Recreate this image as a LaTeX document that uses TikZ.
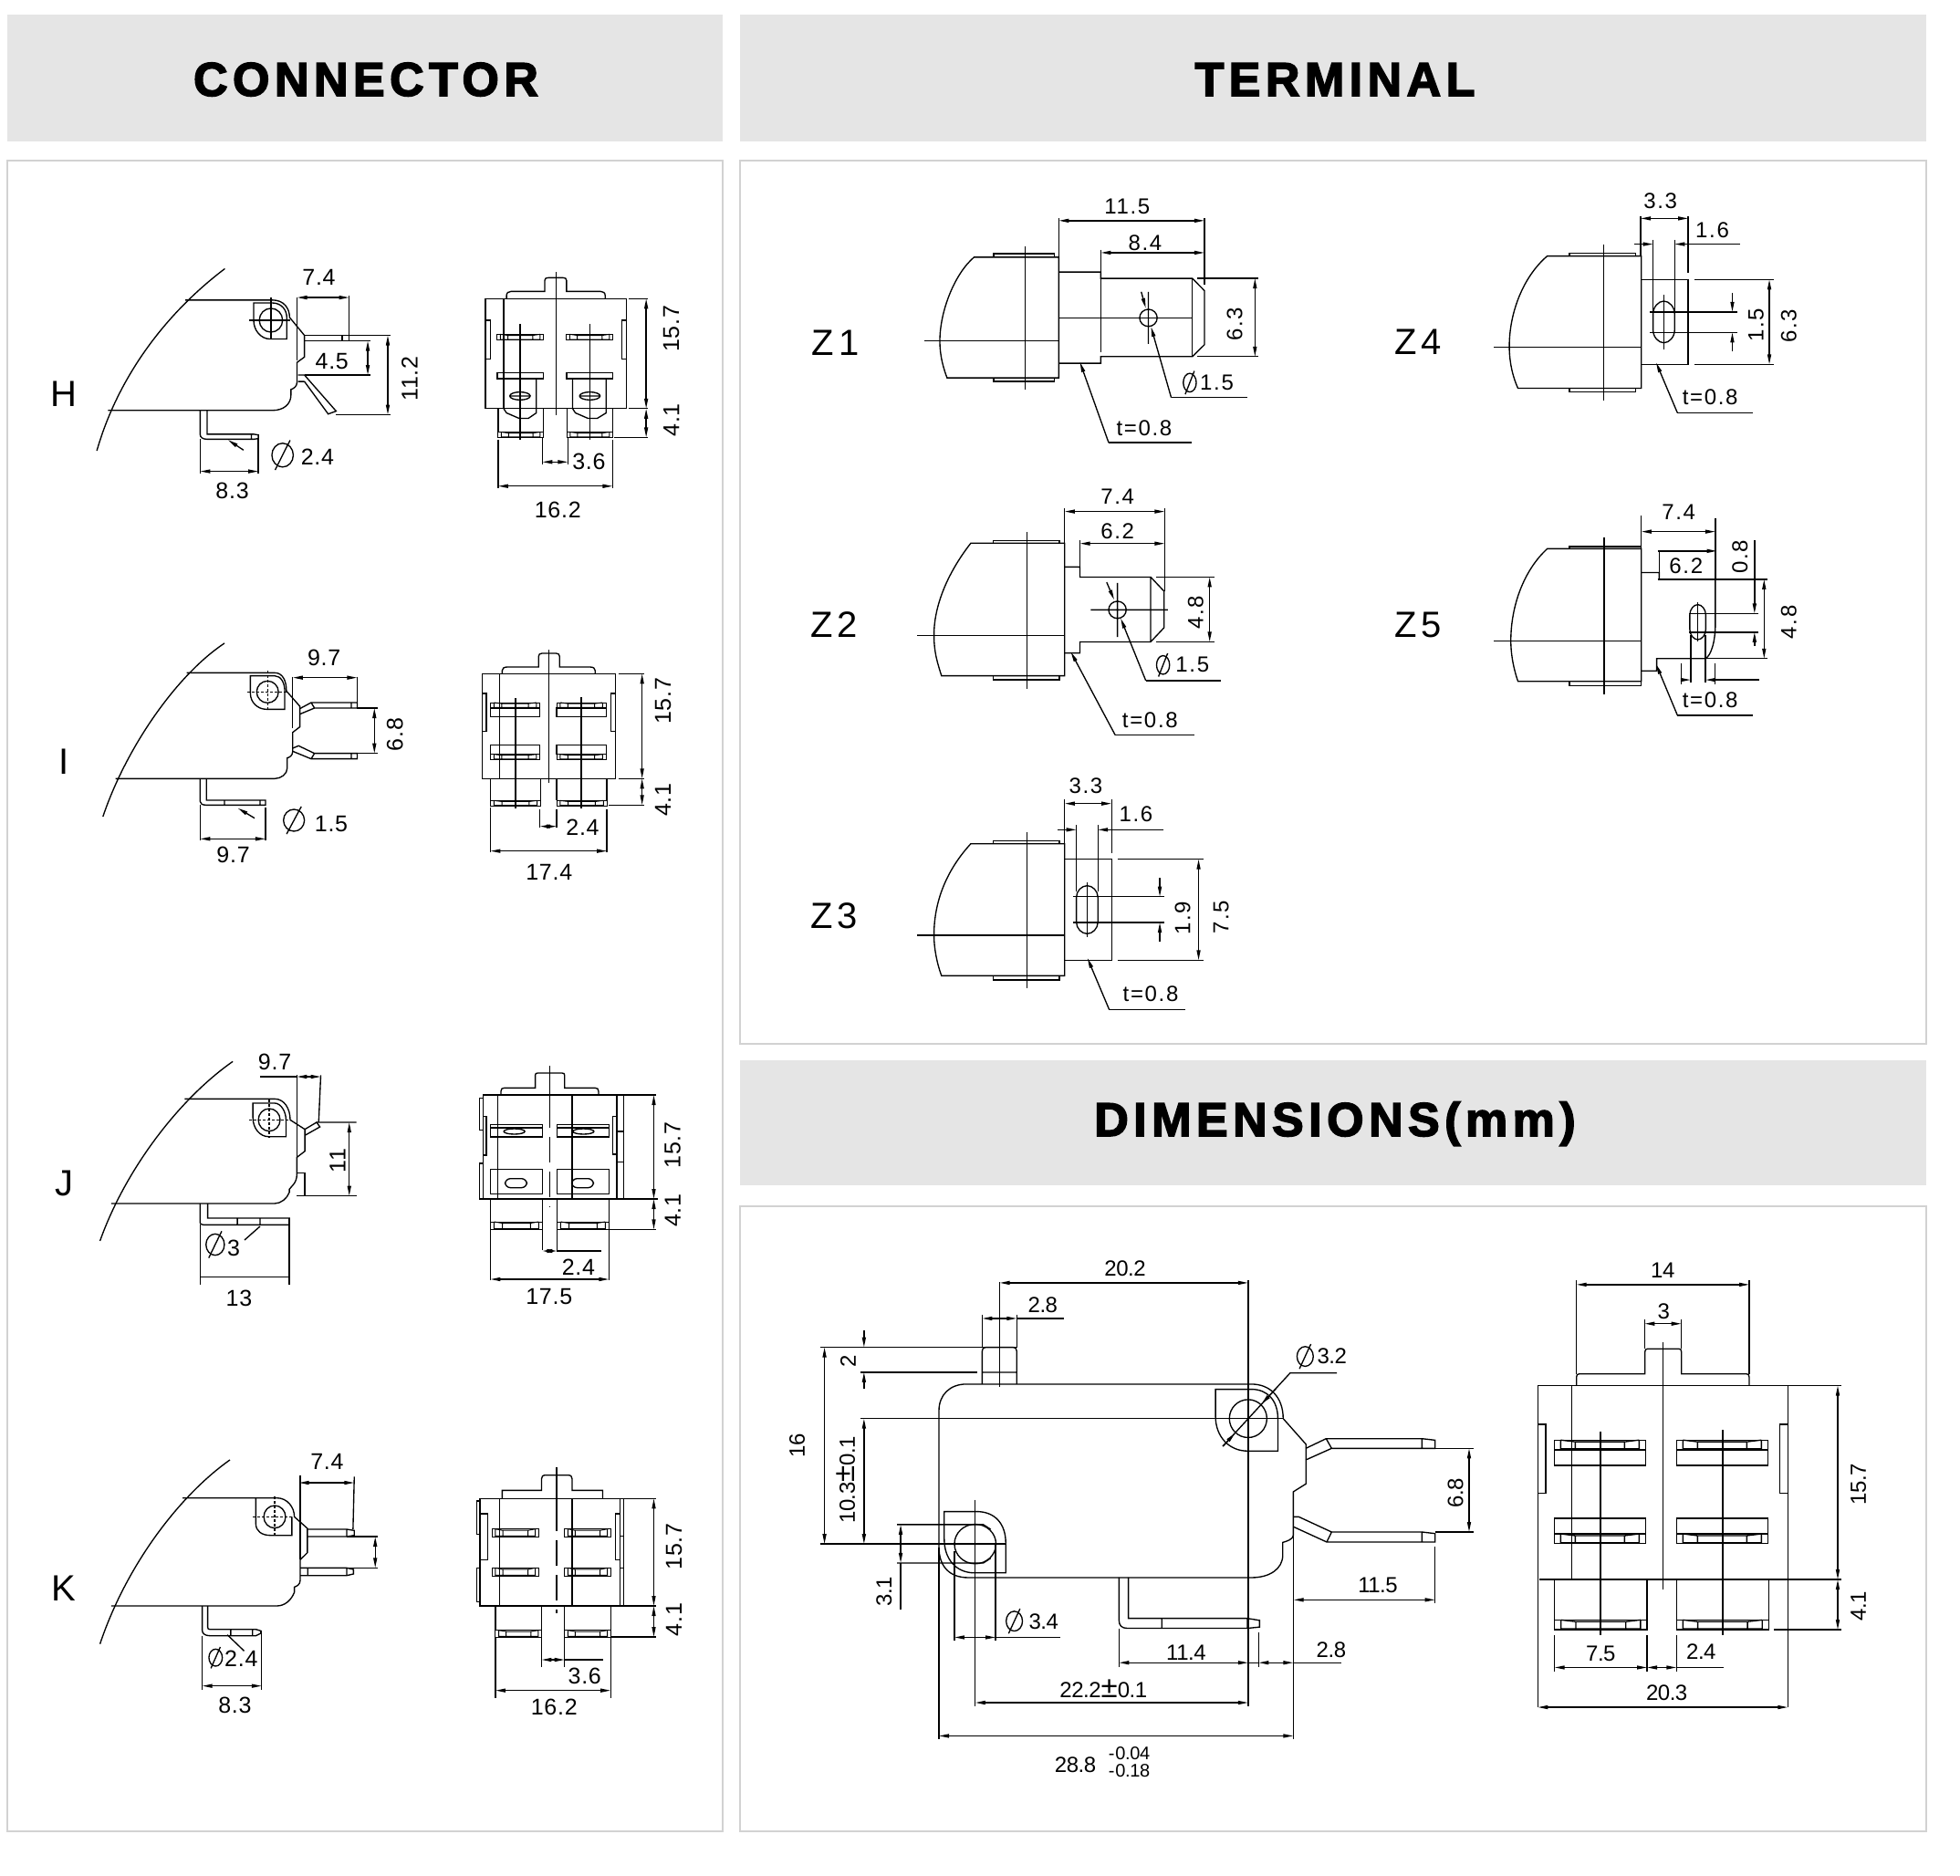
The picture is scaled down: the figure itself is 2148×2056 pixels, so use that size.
\documentclass[tikz,border=0pt]{standalone}
\usepackage{fontspec}
\usetikzlibrary{arrows.meta}
\setmainfont{Liberation Sans}
\newfontfamily\fdim[LetterSpace=3]{Liberation Sans}
\newfontfamily\fterm[LetterSpace=7]{Liberation Sans}
\newfontfamily\fbig[LetterSpace=-2]{Liberation Sans}
\newfontfamily\ftitle[LetterSpace=10.5,FakeBold=3]{Liberation Sans Bold}
\newcommand{\fa}{\fontsize{25pt}{25pt}\fdim}
\newcommand{\fb}{\fontsize{24pt}{24pt}\fterm}
\newcommand{\fc}{\fontsize{24pt}{24pt}\fbig}
\newcommand{\fd}{\fontsize{20pt}{20pt}\fbig}
\newcommand{\fe}{\fontsize{40pt}{40pt}\fterm}
\newcommand{\ft}{\fontsize{52pt}{52pt}\ftitle}
\newcommand{\dimf}{\fa}
\newcommand{\trapw}{1pt}
\newcommand{\bigpm}{{\fontsize{33pt}{33pt}\selectfont ±}}
\newcount\tcnt
\newcommand{\lab}[3]{\global\advance\tcnt by 1 \node[tx] (t\the\tcnt) at (#1,#2) {#3};}
\newcommand{\rlab}[3]{\global\advance\tcnt by 1 \node[tx,rotate=90] (t\the\tcnt) at (#1,#2) {#3};}
\newcommand{\letter}[3]{\global\advance\tcnt by 1 \node[inner sep=0pt,font=\fe] (t\the\tcnt) at (#1,#2) {#3};}
\newcommand{\diam}[4]{\draw (#1,#2) circle [x radius=#3,y radius=#4]; \draw ({#1+0.7*#3},{#2-1.25*#4}) -- ({#1-0.7*#3},{#2+1.25*#4});}
\newcommand{\trap}[4]{%
 \pgfmathsetmacro\ta{#1+0.07*(#2-#1)}\pgfmathsetmacro\tb{#1+0.23*(#2-#1)}%
 \pgfmathsetmacro\tc{#2-0.23*(#2-#1)}\pgfmathsetmacro\td{#2-0.07*(#2-#1)}%
 \pgfmathsetmacro\te{#3+0.18*(#4-#3)}\pgfmathsetmacro\tf{#4-0.1*(#4-#3)}%
 \draw[line width=\trapw] (#1,#3) rectangle (#2,#4);
 \draw[line width=\trapw] (\ta,#3)--(\ta,#4) (\td,#3)--(\td,#4) (\tb,\te)--(\tb,#4) (\tc,\te)--(\tc,#4) (\ta,#3)--(\tb,\te)--(\tc,\te)--(\td,#3) (\ta,\tf)--(\td,\tf);}
\newcommand{\stad}[5]{%
 \pgfmathsetmacro\sm{(#1+#2)/2}\pgfmathsetmacro\sa{#3+#5}\pgfmathsetmacro\sb{#4-#5}%
 \draw (#1,\sa) .. controls (#1,{#3+0.45*#5}) and ({#1+0.25*(#2-#1)},#3) .. (\sm,#3) .. controls ({#2-0.25*(#2-#1)},#3) and (#2,{#3+0.45*#5}) .. (#2,\sa) -- (#2,\sb) .. controls (#2,{#4-0.45*#5}) and ({#2-0.25*(#2-#1)},#4) .. (\sm,#4) .. controls ({#1+0.25*(#2-#1)},#4) and (#1,{#4-0.45*#5}) .. (#1,\sb) -- cycle;}
\tikzset{
 zm/.style n args={4}{shift={(#1pt,-#2pt)},x=1pt/#3,y=-1pt/#4},
 tx/.style={inner sep=0pt,font=\dimf},
 dm/.style={<->},
 head/.style={fill=headgray,draw=none},
 pane/.style={draw=panegray,line width=2pt,fill=white},
 ttl/.style={inner sep=0pt,font=\ft,anchor=base},
}
\definecolor{headgray}{HTML}{E5E5E5}
\definecolor{panegray}{HTML}{D2D2D2}
\begin{document}
\begin{tikzpicture}[line width=1.35pt,>={Stealth[length=11pt,width=4pt,inset=0pt]},line join=miter]
\useasboundingbox (0pt,0pt) rectangle (2148pt,-2056pt);
\begin{scope}[zm={0}{0}{1}{1}]
\fill[head] (8,16) rectangle (792,155);
\fill[head] (811,16) rectangle (2111,155);
\fill[head] (811,1162) rectangle (2111,1299);
\draw[pane] (8,176) rectangle (792,2007);
\draw[pane] (811,176) rectangle (2111,1144);
\draw[pane] (811,1322) rectangle (2111,2007);
\node[ttl] (tconn) at (401,105) {CONNECTOR};
\node[ttl] (tterm) at (1463,105) {TERMINAL};
\node[ttl] (tdim) at (1463,1245) {DIMENSIONS(mm)};
\end{scope}
% ---------- H
\begin{scope}[zm={0}{0}{1.96}{2.53}]
\letter{137}{1092}{H}
\draw (483,745) .. controls (345,880) and (250,1060) .. (208,1250);
\draw (398,832) -- (585,832) .. controls (610,832) and (622,855) .. (622,880) -- (654,930) -- (654,990) -- (638,1005) -- (638,1060) .. controls (638,1072) and (630,1078) .. (625,1080) -- (625,1095) .. controls (625,1120) and (610,1138) .. (585,1138) -- (232,1138);
\draw (545,840) -- (585,840) .. controls (605,840) and (616,860) .. (616,880) -- (616,940) -- (580,940) .. controls (560,940) and (545,915) .. (545,890) -- cycle;
\draw (582,888) circle [x radius=25,y radius=33];
\draw (535,888)--(623,888) (582,825)--(582,940) (638,825)--(638,1000);
\draw (654,930)--(750,930)--(750,945)--(654,945) (735,930)--(735,945);
\draw (640,1040)--(654,1040)--(722,1140)--(705,1148)--(654,1058) (640,1058)--(654,1058);
\draw[dm] (638,825)--(750,825); \draw (750,820)--(750,930); \lab{685}{770}{7.4}
\draw (654,945)--(795,945) (654,1040)--(795,1040); \draw[dm] (790,945)--(790,1040); \lab{713}{1002}{4.5}
\draw (750,930)--(838,930) (722,1150)--(838,1150); \draw[dm] (833,930)--(833,1150); \rlab{880}{1050}{11.2}
\draw (445,1138)--(445,1204)--(545,1204)--(555,1206)--(555,1216)--(545,1218)--(445,1218) .. controls (435,1218) and (430,1212) .. (430,1205)--(430,1138) (540,1204)--(540,1218);
\draw (430,1218)--(430,1312) (555,1218)--(555,1312); \draw[dm] (430,1307)--(555,1307); \lab{499}{1362}{8.3}
\draw[->] (523,1248)--(490,1220);
\diam{607}{1262}{23}{33} \lab{682}{1266}{2.4}
% front
\draw (1088,828)--(1088,820) .. controls (1088,812) and (1092,808) .. (1098,808) -- (1170,808)--(1170,778) .. controls (1170,772) and (1173,770) .. (1178,770) -- (1209,770) .. controls (1214,770) and (1217,772) .. (1217,778) -- (1217,808)--(1290,808) .. controls (1296,808) and (1300,812) .. (1300,820)--(1300,828);
\draw (1043,828) rectangle (1346,1133);
\draw (1195,755)--(1195,1150) (1082,828)--(1082,1133);
\draw (1043,888) rectangle (1053,995) (1336,888) rectangle (1346,995);
\trap{1068}{1167}{927}{943} \trap{1217}{1316}{927}{943}
\draw (1068,1033) rectangle (1167,1050) (1217,1033) rectangle (1316,1050);
\draw (1082,1050)--(1082,1133)--(1088,1145)--(1115,1160)--(1135,1160)--(1152,1145)--(1152,1050);
\draw (1230,1050)--(1230,1133)--(1236,1145)--(1263,1160)--(1283,1160)--(1302,1145)--(1302,1050);
\draw (1117,898)--(1117,1220) (1267,898)--(1267,1220);
\draw (1117,1098) circle [x radius=22,y radius=11] (1095,1098)--(1139,1098);
\draw (1267,1098) circle [x radius=22,y radius=11] (1245,1098)--(1289,1098);
\draw (1070,1133)--(1070,1198) (1167,1133)--(1167,1198) (1218,1133)--(1218,1198) (1316,1133)--(1316,1198);
\trap{1070}{1167}{1198}{1213} \trap{1218}{1316}{1198}{1213}
\draw (1350,828)--(1392,828) (1350,1133)--(1392,1133) (1320,1213)--(1392,1213);
\draw[dm] (1388,828)--(1388,1133); \draw[dm] (1388,1133)--(1388,1213);
\rlab{1442}{912}{15.7} \rlab{1442}{1165}{4.1}
\draw (1165,1213)--(1165,1288) (1220,1213)--(1220,1288); \draw[dm] (1165,1281)--(1220,1281); \lab{1265}{1280}{3.6}
\draw (1070,1220)--(1070,1353) (1316,1220)--(1316,1353); \draw[dm] (1070,1348)--(1316,1348); \lab{1198}{1415}{16.2}
\end{scope}
% ---------- I
\begin{scope}[zm={60}{680}{2.178}{3}]
\letter{22}{465}{I}
\draw (405,75) .. controls (290,180) and (170,420) .. (115,645);
\draw (315,172)--(525,172) .. controls (545,172) and (553,200) .. (553,232) -- (585,282)--(585,350)--(568,368)--(568,430) .. controls (568,445) and (560,450) .. (555,452)--(555,485) .. controls (555,505) and (540,520) .. (525,520)--(145,520);
\draw (467,182)--(525,182) .. controls (540,182) and (549,205) .. (549,232)--(549,292)--(505,292) .. controls (485,292) and (467,270) .. (467,240)--cycle;
\draw (508,235) circle [x radius=26,y radius=36];
\draw[densely dashed] (460,235)--(553,235) (508,165)--(508,298);
\draw (568,185)--(568,355);
\draw (585,290)--(612,270)--(722,270)--(722,288)--(620,288)--(585,308) (612,270)--(620,288) (708,270)--(708,288);
\draw (568,420)--(582,412)--(620,437)--(722,437)--(722,455)--(612,455)--(568,430) (612,455)--(620,437) (708,437)--(708,455);
\draw (722,185)--(722,270); \draw[dm] (568,188)--(722,188); \lab{643}{122}{9.7}
\draw (720,288)--(770,288) (720,437)--(770,437); \draw[dm] (763,288)--(763,437); \rlab{812}{375}{6.8}
\draw (362,520)--(362,591)--(503,591)--(503,607)--(362,607) .. controls (352,607) and (347,602) .. (347,595)--(347,520) (405,591)--(405,607) (490,591)--(490,607);
\draw (347,607)--(347,722) (503,615)--(503,722); \draw[dm] (347,718)--(503,718); \lab{426}{772}{9.7}
\draw[->] (477,650)--(437,617);
\diam{571}{657}{25}{36} \lab{660}{670}{1.5}
% front
\draw (1068,175)--(1068,165) .. controls (1068,158) and (1072,153) .. (1080,153)--(1155,153)--(1155,118) .. controls (1155,112) and (1158,108) .. (1163,108)--(1197,108) .. controls (1202,108) and (1205,112) .. (1205,118)--(1205,153)--(1278,153) .. controls (1286,153) and (1290,158) .. (1290,165)--(1290,175);
\draw (1020,175) rectangle (1338,520);
\draw (1180,97)--(1180,535) (1062,175)--(1062,520);
\draw (1020,240) rectangle (1030,365) (1328,240) rectangle (1338,365);
\trap{1040}{1158}{270}{288} \trap{1198}{1316}{270}{288}
\draw (1040,288) rectangle (1158,316) (1198,288) rectangle (1316,316);
\draw (1040,410) rectangle (1158,440) (1198,410) rectangle (1316,440);
\trap{1040}{1158}{440}{457} \trap{1198}{1316}{440}{457}
\draw (1100,255)--(1100,618) (1257,252)--(1257,618);
\draw (1040,520)--(1040,592) (1160,520)--(1160,592) (1198,520)--(1198,592) (1318,520)--(1318,592);
\trap{1040}{1160}{592}{610} \trap{1198}{1318}{592}{610}
\draw (1345,175)--(1408,175) (1345,520)--(1408,520) (1322,607)--(1408,607);
\draw[dm] (1402,175)--(1402,520); \draw[dm] (1402,520)--(1402,607);
\rlab{1452}{265}{15.7} \rlab{1452}{590}{4.1}
\draw (1158,620)--(1158,682) (1198,620)--(1198,682); \draw[dm] (1158,677)--(1198,677); \lab{1260}{680}{2.4}
\draw (1040,615)--(1040,762) (1318,620)--(1318,762); \draw[dm] (1040,758)--(1318,758); \lab{1180}{828}{17.4}
\end{scope}
% ---------- J
\begin{scope}[zm={60}{1140}{2.178}{3}]
\letter{22}{470}{J}
\draw (425,70) .. controls (300,190) and (170,420) .. (108,660);
\draw (310,193)--(525,193) .. controls (548,193) and (562,225) .. (562,262)--(597,293)--(597,365)--(578,385)--(578,440) .. controls (578,470) and (565,480) .. (560,490)--(560,500) .. controls (555,520) and (540,537) .. (525,537)--(135,537);
\draw (473,207)--(525,207) .. controls (540,207) and (552,235) .. (552,262)--(552,317)--(510,317) .. controls (490,317) and (473,290) .. (473,255)--cycle;
\draw (512,262) circle [x radius=26,y radius=37];
\draw[densely dashed] (465,262)--(560,262) (512,195)--(512,320);
\draw (578,115)--(578,385);
\draw (597,293)--(625,270)--(633,285)--(597,313);
\draw (578,437)--(597,437)--(597,512) (578,512)--(720,512);
\draw (490,120)--(578,120); \draw[dm] (578,120)--(635,120); \lab{525}{72}{9.7}
\draw (635,115)--(630,270) (625,270)--(720,270);
\draw[dm] (703,270)--(703,512); \rlab{675}{397}{11}
\draw (365,537)--(365,585)--(560,585)--(560,607)--(355,607) .. controls (350,607) and (347,604) .. (347,600)--(347,537) (436,585)--(436,607) (490,585)--(490,607);
\draw (347,607)--(347,805) (560,585)--(560,805) (347,778)--(560,778); \lab{440}{850}{13}
\draw (490,612)--(453,657);
\diam{383}{672}{22}{35} \lab{427}{683}{3}
% front
\draw (1065,180)--(1065,168) .. controls (1065,160) and (1068,157) .. (1073,157)--(1147,157)--(1147,115) .. controls (1147,110) and (1149,108) .. (1153,108)--(1211,108) .. controls (1215,108) and (1217,110) .. (1217,115)--(1217,157)--(1290,157) .. controls (1295,157) and (1298,160) .. (1298,168)--(1298,180);
\draw (1022,180) rectangle (1358,522);
\draw (1057,180)--(1057,522) (1235,180)--(1235,522) (1342,180)--(1342,522);
\draw (1014,190) rectangle (1022,295) (1022,250) rectangle (1030,378) (1014,405) rectangle (1022,522);
\draw (1332,250) rectangle (1342,375) (1342,300)--(1358,300) (1342,400)--(1358,400);
\draw (1040,278) rectangle (1164,318) (1040,288)--(1164,288) (1199,278) rectangle (1323,318) (1199,288)--(1323,288);
\draw (1097,300) circle [x radius=25,y radius=9] (1262,300) circle [x radius=25,y radius=9];
\draw (1040,425) rectangle (1164,505) (1199,425) rectangle (1323,505);
\draw[rounded corners=6pt] (1075,455) rectangle (1127,485) (1234,455) rectangle (1286,485);
\draw (1181,85)--(1181,205); \draw[dashed,dash pattern=on 28pt off 10pt] (1181,205)--(1181,548);
\draw (1040,522)--(1040,597) (1323,522)--(1323,597) (1164,522)--(1164,690) (1199,522)--(1199,690);
\trap{1040}{1164}{597}{622} \trap{1199}{1323}{597}{622}
\draw (1323,622)--(1435,622) (1358,180)--(1435,180) (1358,522)--(1440,522);
\draw[dm] (1430,180)--(1430,522); \draw[dm] (1430,522)--(1430,622);
\rlab{1475}{345}{15.7} \rlab{1475}{560}{4.1}
\draw (1199,693)--(1305,693); \draw[dm] (1164,693)--(1199,693); \lab{1250}{745}{2.4}
\draw (1040,622)--(1040,790) (1323,622)--(1323,790); \draw[dm] (1040,786)--(1323,786); \lab{1180}{842}{17.5}
\end{scope}
% ---------- K
\begin{scope}[zm={60}{1590}{2.178}{3}]
\letter{22}{452}{K}
\draw (418,30) .. controls (295,150) and (170,380) .. (108,635);
\draw (305,155)--(530,155) .. controls (555,155) and (572,185) .. (572,217)--(603,255)--(603,335)--(586,358)--(586,425) .. controls (586,440) and (578,445) .. (572,448)--(572,465) .. controls (565,490) and (550,510) .. (530,510)--(135,510);
\draw (480,155)--(480,240) .. controls (480,265) and (495,278) .. (515,278)--(566,278)--(566,217);
\draw (525,217) circle [x radius=26,y radius=37];
\draw[densely dashed] (473,217)--(568,217) (525,150)--(525,280);
\draw (586,80)--(586,358);
\draw (603,258)--(697,258)--(715,262)--(715,278)--(697,282)--(603,282) (697,258)--(697,282);
\draw (586,385)--(697,385)--(713,390)--(713,405)--(697,410)--(586,410) (604,385)--(604,410) (697,385)--(697,410);
\draw (715,85)--(712,258); \draw[dm] (583,105)--(715,105); \lab{650}{37}{7.4}
\draw (697,282)--(770,282) (697,385)--(770,385); \draw[dm] (765,282)--(765,385);
\draw (365,510)--(365,580) .. controls (365,585) and (367,587) .. (370,587)--(480,587)--(492,592)--(492,600)--(480,608)--(370,608) .. controls (358,608) and (352,600) .. (352,590)--(352,510) (420,587)--(420,608) (472,587)--(472,608);
\draw (352,608)--(352,787) (494,590)--(494,787); \draw[dm] (352,773)--(494,773); \lab{430}{838}{8.3}
\draw (452,658)--(412,605);
\diam{384}{680}{16}{28} \lab{445}{683}{2.4}
% front
\draw (1068,157)--(1068,130)--(1162,130)--(1162,92) .. controls (1162,84) and (1165,80) .. (1172,80)--(1225,80) .. controls (1232,80) and (1235,84) .. (1235,92)--(1235,130)--(1308,130)--(1308,157);
\draw (1015,157) rectangle (1358,510);
\draw (1062,157)--(1062,510) (1235,157)--(1235,510) (1350,157)--(1350,510);
\draw (1007,165) rectangle (1015,275) (1015,207) rectangle (1033,358) (1007,385) rectangle (1015,497);
\draw (1338,207) rectangle (1350,358) (1350,280)--(1358,280) (1350,385)--(1358,385);
\trap{1044}{1155}{257}{283} \trap{1217}{1327}{257}{283}
\trap{1044}{1155}{385}{412} \trap{1217}{1327}{385}{412}
\draw (1198,55)--(1198,180); \draw[dashed,dash pattern=on 28pt off 10pt] (1198,180)--(1198,535);
\draw (1052,510)--(1052,590) (1162,510)--(1162,712) (1217,510)--(1217,712) (1327,510)--(1327,590);
\trap{1052}{1162}{590}{612} \trap{1217}{1327}{590}{612}
\draw (1327,612)--(1435,612) (1358,157)--(1435,157) (1358,510)--(1435,510);
\draw[dm] (1430,157)--(1430,510); \draw[dm] (1430,510)--(1430,612);
\rlab{1478}{315}{15.7} \rlab{1478}{555}{4.1}
\draw (1217,687)--(1308,687); \draw[dm] (1162,687)--(1217,687); \lab{1265}{742}{3.6}
\draw (1052,612)--(1052,812) (1327,612)--(1327,812); \draw[dm] (1052,788)--(1327,788); \lab{1192}{842}{16.2}
\end{scope}
% ---------- Z1 Z2
\renewcommand{\dimf}{\fb}
\begin{scope}[zm={880}{190}{2.8}{2.45}]
\letter{100}{455}{Z\kern5pt 1}
\draw (525,225) .. controls (465,270) and (420,370) .. (420,450) .. controls (420,490) and (430,520) .. (442,549)--(785,549)--(785,225)--cycle;
\draw (585,225)--(585,216)--(772,216)--(772,225) (585,549)--(585,559)--(772,559)--(772,549);
\draw (373,450)--(785,450) (681,197)--(681,580);
\draw (787,265)--(914,265)--(914,282)--(1195,282)--(1232,315)--(1232,460)--(1195,492)--(914,492)--(914,510)--(787,510);
\draw (1195,282)--(1195,492) (787,388)--(1195,388) (914,205)--(914,480);
\draw (1060,388) circle [x radius=27,y radius=23] (1060,318)--(1060,458);
\draw[->] (1038,318)--(1052,362);
\draw[->] (1130,602)--(1068,412); \draw (1130,602)--(1365,602);
\diam{1187}{562}{20}{25} \lab{1270}{562}{1.5}
\draw (785,120)--(785,225) (1232,120)--(1232,300); \draw[dm] (785,127)--(1232,127); \lab{995}{90}{11.5}
\draw[dm] (914,213)--(1232,213); \lab{1050}{186}{8.4}
\draw (1210,282)--(1398,282) (1210,492)--(1398,492); \draw[dm] (1387,282)--(1387,492); \rlab{1325}{405}{6.3}
\draw[->] (938,723)--(850,507); \draw (938,723)--(1192,723); \lab{1047}{683}{t=0.8}
% Z2
\letter{95}{1212}{Z\kern5pt 2}
\draw (515,993) .. controls (455,1060) and (402,1150) .. (402,1240) .. controls (402,1290) and (415,1320) .. (425,1349)--(803,1349)--(803,993)--cycle;
\draw (583,993)--(583,986)--(787,986)--(787,993) (583,1349)--(583,1360)--(787,1360)--(787,1349);
\draw (350,1241)--(803,1241) (688,963)--(688,1385);
\draw (803,1057)--(850,1057)--(850,1084)--(1067,1084)--(1108,1122)--(1108,1220)--(1067,1258)--(850,1258)--(850,1288)--(803,1288) (1067,1084)--(1067,1258);
\draw (965,1172) circle [x radius=27,y radius=23] (883,1172)--(1120,1172) (965,1100)--(965,1245);
\draw[->] (932,1098)--(955,1145);
\draw[->] (1052,1362)--(975,1195); \draw (1052,1362)--(1282,1362);
\diam{1105}{1320}{20}{25} \lab{1195}{1320}{1.5}
\draw (803,900)--(803,993) (1110,900)--(1110,1122); \draw[dm] (803,908)--(1110,908); \lab{965}{868}{7.4}
\draw (850,985)--(850,1057); \draw[dm] (850,994)--(1110,994); \lab{965}{962}{6.2}
\draw (1085,1084)--(1262,1084) (1085,1258)--(1262,1258); \draw[dm] (1248,1084)--(1248,1258); \rlab{1205}{1180}{4.8}
\draw[->] (958,1508)--(822,1285); \draw (958,1508)--(1200,1508); \lab{1065}{1468}{t=0.8}
\end{scope}
% ---------- Z4 Z5
\begin{scope}[zm={1530}{190}{2.958}{2.45}]
\letter{72}{452}{Z\kern5pt 4}
\draw (490,222) .. controls (415,275) and (367,370) .. (367,465) .. controls (367,510) and (380,550) .. (395,577)--(795,577)--(795,222)--cycle;
\draw (562,222)--(562,215)--(777,215)--(777,222) (562,577)--(562,587)--(777,587)--(777,577);
\draw (317,467)--(795,467) (673,192)--(673,610);
\draw (795,285)--(947,285)--(947,513)--(795,513);
\stad{833}{903}{343}{455}{35}
\draw (868,327)--(868,473) (822,372)--(1105,372) (822,427)--(1105,427);
\draw (793,115)--(793,222) (947,115)--(947,268); \draw[dm] (793,121)--(947,121); \lab{857}{73}{3.3}
\draw[->] (772,190)--(833,190); \draw[->] (1115,190)--(903,190);
\draw (833,178)--(833,372) (903,178)--(903,372); \lab{1025}{152}{1.6}
\draw[->] (1090,322)--(1090,372); \draw[->] (1090,477)--(1090,427); \rlab{1167}{408}{1.5}
\draw (967,285)--(1225,285) (967,513)--(1225,513); \draw[dm] (1210,285)--(1210,513); \rlab{1273}{410}{6.3}
\draw[->] (912,643)--(843,508); \draw (912,643)--(1157,643); \lab{1018}{602}{t=0.8}
% Z5
\letter{72}{1212}{Z\kern5pt 5}
\draw (490,1008) .. controls (415,1065) and (372,1160) .. (372,1255) .. controls (372,1300) and (385,1340) .. (395,1364)--(795,1364)--(795,1008)--cycle;
\draw (562,1008)--(562,1002)--(795,1002) (562,1364)--(562,1375)--(795,1375)--(795,1364);
\draw (317,1255)--(795,1255) (674,978)--(674,1398);
\draw (795,1072)--(853,1072)--(853,1090)--(1035,1090)--(1035,1210) .. controls (1035,1260) and (1020,1295) .. (1003,1303)--(845,1303)--(845,1336)--(795,1336);
\stad{952}{1004}{1158}{1252}{28}
\draw (853,1015)--(853,1090) (978,1152)--(978,1258) (950,1182)--(1175,1182) (950,1232)--(1175,1232);
\draw (795,920)--(795,1008) (1035,925)--(1035,1090); \draw[dm] (795,962)--(1035,962); \lab{916}{910}{7.4}
\draw[->] (848,1014)--(1040,1014); \lab{940}{1055}{6.2}
\draw (848,1090)--(1205,1090);
\draw[->] (1162,985)--(1162,1182); \draw[->] (1162,1268)--(1162,1232); \rlab{1115}{1030}{0.8}
\draw[dm] (1193,1090)--(1193,1303); \draw (1003,1303)--(1205,1303); \rlab{1273}{1205}{4.8}
\draw (955,1240)--(955,1368) (1003,1240)--(1003,1368) (925,1315)--(925,1372) (1033,1315)--(1033,1372);
\draw[->] (925,1360)--(955,1360); \draw[->] (1178,1360)--(1003,1360);
\draw[->] (912,1455)--(843,1318); \draw (912,1455)--(1157,1455); \lab{1018}{1415}{t=0.8}
\end{scope}
% ---------- Z3
\begin{scope}[zm={880}{840}{2.8}{3}]
\letter{95}{490}{Z\kern5pt 3}
\draw (515,254) .. controls (450,330) and (402,430) .. (402,555) .. controls (402,600) and (412,650) .. (425,688)--(803,688)--(803,254)--cycle;
\draw (583,254)--(583,244)--(787,244)--(787,254) (583,688)--(583,702)--(787,702)--(787,688);
\draw (350,555)--(803,555) (688,215)--(688,730);
\draw (803,305)--(947,305)--(947,637)--(803,637);
\stad{839}{905}{392}{550}{38}
\draw (873,382)--(873,560) (830,428)--(1110,428) (830,513)--(1110,513);
\draw (803,108)--(803,305) (947,108)--(947,285); \draw[dm] (803,122)--(947,122); \lab{868}{63}{3.3}
\draw[->] (782,208)--(839,208); \draw[->] (1107,208)--(905,208);
\draw (839,193)--(839,410) (905,193)--(905,410); \lab{1022}{158}{1.6}
\draw[->] (1095,367)--(1095,428); \draw[->] (1095,575)--(1095,513); \rlab{1165}{498}{1.9}
\draw (965,305)--(1228,305) (965,637)--(1228,637); \draw[dm] (1214,305)--(1214,637); \rlab{1283}{495}{7.5}
\draw[->] (940,800)--(873,630); \draw (940,800)--(1172,800); \lab{1067}{747}{t=0.8}
\end{scope}
% ---------- large side view
\renewcommand{\dimf}{\fc}
\renewcommand{\trapw}{1.35pt}
\begin{scope}[zm={800}{1340}{2.24}{2.306}]
\draw (513,475) .. controls (513,435) and (540,408) .. (580,408)--(1280,408) .. controls (1325,408) and (1358,440) .. (1358,495)--(1414,560)--(1414,660)--(1383,680)--(1383,790) .. controls (1383,800) and (1365,806) .. (1357,808)--(1357,840) .. controls (1357,875) and (1325,897) .. (1280,897)--(585,897) .. controls (540,897) and (513,870) .. (513,820)--cycle;
\draw (619,408)--(619,325) .. controls (619,318) and (622,315) .. (628,315)--(695,315) .. controls (701,315) and (704,318) .. (704,325)--(704,408) (619,378)--(704,378);
\draw (662,150)--(662,415);
\draw (1192,421)--(1280,421) .. controls (1320,421) and (1345,450) .. (1345,495)--(1345,577)--(1270,577) .. controls (1225,577) and (1192,540) .. (1192,490)--cycle;
\draw (1272,495) circle [x radius=46,y radius=48];
\draw (526,730)--(605,730) .. controls (650,730) and (677,760) .. (677,810)--(677,885)--(600,885) .. controls (555,885) and (526,850) .. (526,800)--cycle;
\draw (602,812) circle [x radius=51,y radius=50];
\draw (410,763)--(622,763)--(640,775) (410,860)--(622,860)--(640,848);
\draw (320,495)--(1358,495) (222,812)--(677,812) (222,315)--(704,315) (320,378)--(607,378);
\draw (1272,145)--(1272,1222) (602,700)--(602,1222) (513,820)--(513,1305) (1383,790)--(1383,1305);
\draw (978,897)--(978,1000)--(1270,1000)--(1300,1005)--(1300,1022)--(1270,1025)--(975,1025) .. controls (962,1025) and (955,1018) .. (955,1005)--(955,897) (1060,1000)--(1060,1025) (1270,1000)--(1270,1025);
\draw[dm] (662,152)--(1272,152); \lab{970}{115}{20.2}
\draw (619,232)--(619,315) (704,232)--(704,315) (704,242)--(820,242); \draw[dm] (619,242)--(704,242); \lab{768}{208}{2.8}
\draw[dm] (232,315)--(232,812); \rlab{165}{563}{16}
\draw[->] (329,272)--(329,315); \draw[->] (329,420)--(329,378); \rlab{290}{350}{2}
\draw[dm] (329,495)--(329,812); \rlab{285}{650}{10.3\bigpm0.1}
\draw[dm] (419,763)--(419,860); \draw (419,860)--(419,978); \rlab{378}{932}{3.1}
\draw (551,830)--(551,1055) (652,812)--(652,1055) (652,1048)--(812,1048); \draw[dm] (551,1048)--(652,1048);
\diam{698}{1007}{20}{25} \lab{770}{1008}{3.4}
\draw (955,1025)--(955,1122) (1298,1035)--(1298,1122); \draw[dm] (955,1112)--(1272,1112); \lab{1120}{1087}{11.4}
\draw (1272,1112)--(1298,1112) (1383,1112)--(1500,1112); \draw[dm] (1298,1112)--(1383,1112); \lab{1476}{1080}{2.8}
\draw[dm] (602,1213)--(1272,1213); \lab{917}{1178}{22.2\bigpm0.1}
\draw[dm] (513,1297)--(1383,1297); \lab{848}{1370}{28.8}
\node[inner sep=0pt,font=\fd] (tol1) at (980,1342) {-\kern1pt 0.04};
\node[inner sep=0pt,font=\fd] (tol2) at (980,1384) {-\kern1pt 0.18};
\draw (1490,380)--(1375,380)--(1210,565);
\draw[->] (1340,420)--(1305,458); \draw[->] (1210,565)--(1240,532);
\diam{1412}{338}{20}{25} \lab{1478}{338}{3.2}
\end{scope}
\begin{scope}[zm={1380}{1500}{3}{3}]
\draw (153,262)--(220,230)--(535,230)--(578,235)--(578,262)--(238,262)--(153,300) (220,230)--(238,262) (535,230)--(535,262);
\draw (113,487)--(130,487)--(238,537)--(535,537)--(578,542)--(578,570)--(222,570)--(113,520) (238,537)--(222,570) (535,537)--(535,570);
\draw (578,262)--(705,262) (578,537)--(705,537); \draw[dm] (690,262)--(690,537); \rlab{645}{410}{6.8}
\draw (578,585)--(578,772); \draw[dm] (113,760)--(578,760); \lab{390}{712}{11.5}
\end{scope}
% ---------- large front view
\begin{scope}[zm={1660}{1380}{3}{2.8}]
\draw (203,388)--(203,362) .. controls (203,355) and (206,352) .. (212,352)--(428,352)--(428,285) .. controls (428,278) and (431,275) .. (437,275)--(540,275) .. controls (546,275) and (548,278) .. (548,285)--(548,352)--(762,352) .. controls (768,352) and (771,355) .. (771,362)--(771,388);
\draw (76,1375)--(76,388)--(1075,388) (898,1375)--(898,388) (82,983)--(1075,983);
\draw (187,388)--(187,983) (487,255)--(487,1015) (282,528)--(282,1155) (684,524)--(684,1155);
\draw (76,507) rectangle (102,718) (872,507) rectangle (898,718);
\trap{130}{430}{555}{585} \trap{532}{832}{555}{585}
\draw (130,585) rectangle (430,633) (532,585) rectangle (832,633);
\draw (130,795) rectangle (430,843) (532,795) rectangle (832,843);
\trap{130}{430}{843}{873} \trap{532}{832}{843}{873}
\draw (131,983)--(131,1107) (435,983)--(435,1107) (532,983)--(532,1107) (835,983)--(835,1107);
\trap{131}{435}{1107}{1137} \trap{532}{835}{1107}{1137}
\draw (203,65)--(203,352) (771,65)--(771,352); \draw[dm] (203,78)--(771,78); \lab{487}{35}{14}
\draw (427,185)--(427,275) (548,185)--(548,275); \draw[dm] (427,198)--(548,198); \lab{490}{160}{3}
\draw[dm] (1062,388)--(1062,983); \rlab{1130}{690}{15.7}
\draw[dm] (1062,983)--(1062,1137); \draw (852,1137)--(1075,1137); \rlab{1130}{1065}{4.1}
\draw (131,1155)--(131,1265) (435,1155)--(435,1265) (532,1155)--(532,1265) (532,1253)--(687,1253);
\draw[dm] (131,1253)--(435,1253); \draw[dm] (435,1253)--(532,1253); \lab{283}{1210}{7.5} \lab{613}{1203}{2.4}
\draw[dm] (76,1375)--(898,1375); \lab{500}{1330}{20.3}
\end{scope}
\end{tikzpicture}
\end{document}
